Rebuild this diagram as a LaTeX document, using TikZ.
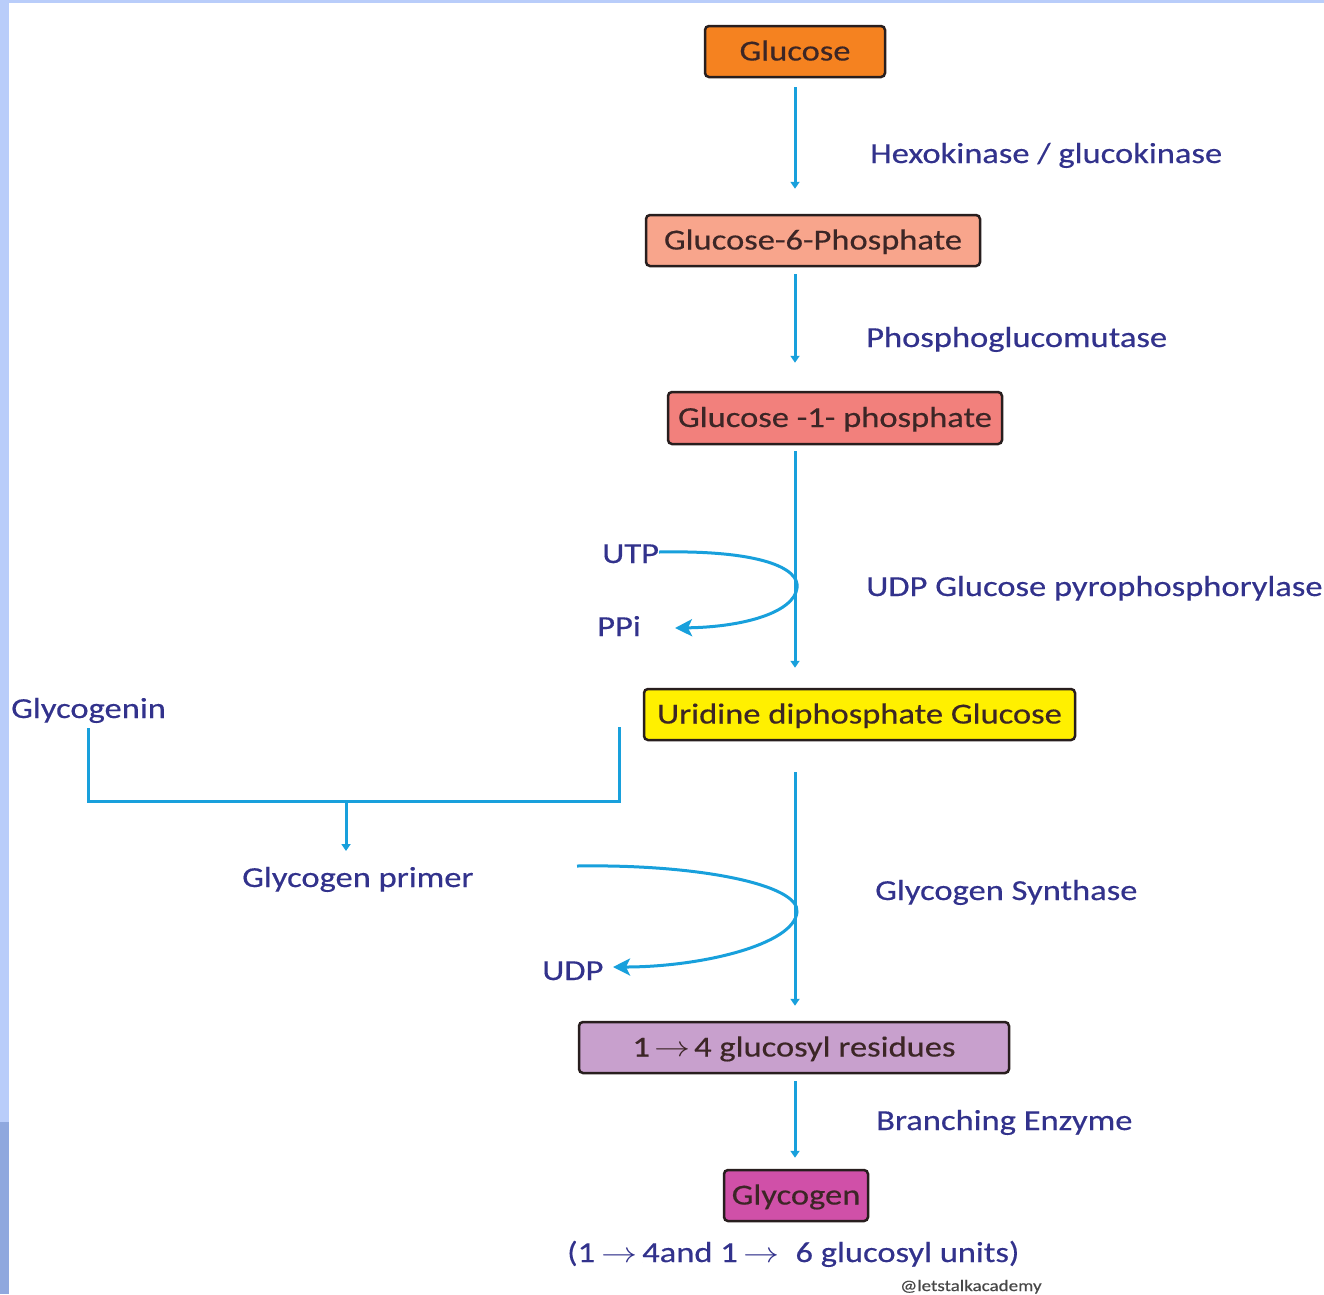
\documentclass[tikz,border=0pt]{standalone}
\usepackage{fontspec}
\usepackage{graphicx}
\setmainfont{Carlito}[FakeStretch=1.19,FakeBold=0.4]
\usetikzlibrary{arrows.meta}
\definecolor{flowc}{RGB}{24,160,220}
\definecolor{labelc}{RGB}{50,50,140}
\definecolor{boxborder}{RGB}{40,30,30}
\definecolor{boxtext}{RGB}{60,38,38}
\definecolor{fglu}{RGB}{245,130,32}
\definecolor{fgsix}{RGB}{248,165,140}
\definecolor{fgone}{RGB}{242,128,124}
\definecolor{fudpg}{RGB}{255,240,0}
\definecolor{fres}{RGB}{200,160,205}
\definecolor{fglyc}{RGB}{208,80,168}
\definecolor{stripa}{RGB}{185,205,250}
\definecolor{stripb}{RGB}{143,168,222}
\newcommand{\lblfont}{\fontsize{29}{34}\selectfont}
\newcommand{\arr}{\scalebox{1.45}[1.15]{$\rightarrow$}}
\tikzset{
  lbl/.style={anchor=base west, inner sep=0pt, text=labelc, font=\lblfont},
  boxnode/.style={draw=boxborder, line width=2.5pt, rounded corners=4pt, inner sep=0pt,
    text=boxtext, font=\lblfont, text height=21pt, text depth=3pt},
  flow/.style={draw=flowc, line width=3pt, -{Triangle[length=7pt,width=9pt]}},
  bigflow/.style={draw=flowc, line width=3pt, -{Stealth[length=17pt,width=17pt,inset=4pt]}},
  plain/.style={draw=flowc, line width=3pt},
}
\begin{document}
\begin{tikzpicture}[x=1pt,y=-1pt]
\useasboundingbox (0,0) rectangle (1324,1294);
\clip (0,0) rectangle (1324,1294);
% background strips
\fill[white] (0,0) rectangle (1324,1294);
\fill[stripa] (0,0) rectangle (1324,2.5);
\fill[stripa] (0,0) rectangle (9,1122);
\fill[stripb] (0,1122) rectangle (9,1294);

% boxes
\node[boxnode, fill=fglu, minimum width=180pt, minimum height=51pt] (glu) at (795,51.5) {Glucose};
\node[boxnode, fill=fgsix, minimum width=334pt, minimum height=51pt] (gsix) at (813,240.5) {Glucose-6-Phosphate};
\node[boxnode, fill=fgone, minimum width=334pt, minimum height=52pt] (gone) at (835,418) {Glucose -1- phosphate};
\node[boxnode, fill=fudpg, minimum width=431pt, minimum height=51pt] (udpg) at (859.5,714.5) {Uridine diphosphate Glucose};
\node[boxnode, fill=fres, minimum width=430pt, minimum height=51pt] (res) at (794,1047.5) {1\hspace{4pt}\arr\hspace{4pt}4 glucosyl residues};
\node[boxnode, fill=fglyc, minimum width=144pt, minimum height=51pt] (glyc) at (796,1195.5) {Glycogen};

% labels
\node[lbl] (hexo) at (870,163) {Hexokinase / glucokinase};
\node[lbl] (pgm) at (866,347) {Phosphoglucomutase};
\node[lbl] (udpgp) at (866,596) {UDP Glucose pyrophosphorylase};
\node[lbl] (utp) at (602,563) {UTP};
\node[lbl] (ppi) at (597,636) {PPi};
\node[lbl] (glycogenin) at (11,718) {Glycogenin};
\node[lbl] (primer) at (242,887) {Glycogen primer};
\node[lbl] (udp) at (542,980) {UDP};
\node[lbl] (gs) at (875,900) {Glycogen Synthase};
\node[lbl] (be) at (876,1130) {Branching Enzyme};
\node[lbl] (units) at (567,1262) {(1\hspace{6pt}\arr\hspace{5pt}4and 1\hspace{6pt}\arr\ \ 6 glucosyl units)};
\node[anchor=base west, inner sep=0pt, text=black!72, font=\fontsize{16}{18}\selectfont] (wm) at (900,1291) {@letstalkacademy};

% main column
\coordinate (col) at (795,0);
\draw[flow, shorten <=9pt, shorten >=25pt] (glu.south -| col) -- (gsix.north -| col);
\draw[flow, shorten <=7pt, shorten >=28pt] (gsix.south -| col) -- (gone.north -| col);
\draw[flow, shorten <=6pt, shorten >=20pt] (gone.south -| col) -- (udpg.north -| col);
\draw[flow, shorten <=31pt, shorten >=15pt] (udpg.south -| col) -- (res.north -| col);
\draw[flow, shorten <=7pt, shorten >=11pt] (res.south -| col) -- (glyc.north -| col);

% UTP -> PPi curve
\coordinate (ppitip) at (675,628);
\draw[bigflow] ([xshift=0pt,yshift=11pt]utp.base east) .. controls (760,550) and (800,568) .. (797,588)
   .. controls (794,612) and (745,627) .. (ppitip);

% glycogen synthase curve
\coordinate (gsin) at (577,866);
\coordinate (udptip) at (613,967);
\draw[bigflow] (gsin) .. controls (700,864) and (800,885) .. (797,912)
   .. controls (794,945) and (700,967) .. (udptip);

% glycogenin bracket
\coordinate (brL) at (88,728);
\coordinate (brR) at (619,727);
\coordinate (brM) at (346,801);
\coordinate (primtop) at (346,851);
\draw[plain] (brL) -- (88,801) -- (619,801) -- (brR);
\draw[flow] (brM) -- (primtop);
\end{tikzpicture}
\end{document}
